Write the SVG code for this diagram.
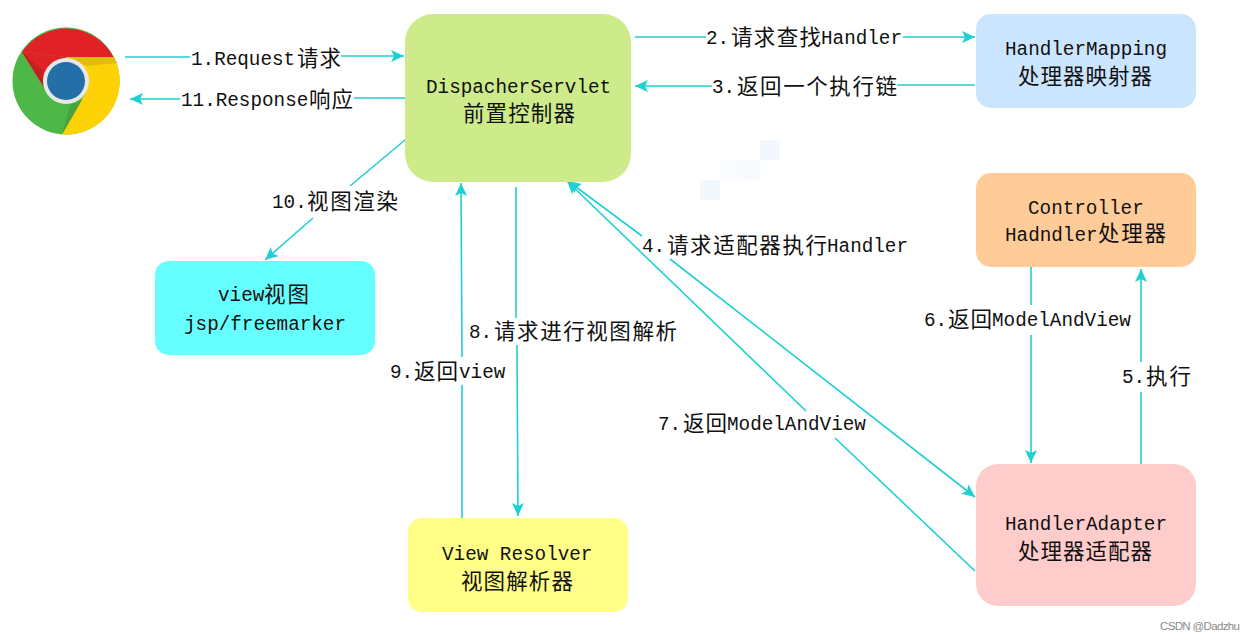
<svg xmlns="http://www.w3.org/2000/svg" width="1255" height="640" viewBox="0 0 1255 640">
<style>
text{font-family:"Liberation Mono","Noto Sans CJK SC",monospace;font-size:19.3px;fill:#111}
.c{font-family:"Noto Sans CJK SC","Liberation Sans",sans-serif;font-size:21.5px}
.box{stroke:none}
.ln{fill:none;stroke:#1fd0d2;stroke-width:1.6}
.a{marker-end:url(#arr)}
.wm{font-family:"Liberation Sans",sans-serif;font-size:11.5px;fill:#8a8a8a}
</style>
<defs>
<marker id="arr" markerUnits="userSpaceOnUse" markerWidth="16" markerHeight="14" refX="14" refY="7" orient="auto">
<path d="M1 1 L14 7 L1 13 L4 7 Z" fill="#1fd0d2"/>
</marker>
</defs>
<rect width="1255" height="640" fill="#fff"/>
<g id="watermark-patches" fill="#eff6fd" opacity=".75">
<rect x="700" y="180" width="20" height="20"/><rect x="720" y="160" width="20" height="20" opacity=".5"/><rect x="740" y="160" width="20" height="20" opacity=".6"/><rect x="760" y="140" width="20" height="20"/>
</g>
<g id="browser">
<circle cx="66" cy="81" r="53.5" fill="#4db748"/>
<path d="M22 52 A53.5 53.5 0 0 1 113.500 57 L66 57 Z" fill="#e02227"/>
<path d="M22 52 L43 86 L66 57 Z" fill="#e02227"/>
<path d="M114 57 A53.500 53.500 0 0 1 62 134.500 L86 92 L66 57 Z" fill="#fdd207"/>
<path d="M22 52 L44 87 L42 70 Z" fill="#c41f22"/>
<path d="M66 57 L114 57 L117 63 L86 66 Z" fill="#e0bd08"/>
<path d="M62 134.500 L82 100 L70 105 Z" fill="#49a33f"/>
<circle cx="66" cy="81" r="23" fill="#e8e8e8"/>
<circle cx="66" cy="81" r="19" fill="#246fa8"/>
</g>
<g id="connectors">
<path class="ln" d="M125 57H190"/><path class="ln a" d="M341 56H404"/>
<path class="ln" d="M405 98H354"/><path class="ln a" d="M180 99H130"/>
<path class="ln" d="M635 37H706"/><path class="ln a" d="M903 37H975"/>
<path class="ln" d="M975 85H897"/><path class="ln a" d="M712 86H635"/>
<path class="ln" d="M405 140L350 186"/><path class="ln a" d="M313 218L265 260"/>
<path class="ln" d="M516 187V318"/><path class="ln a" d="M517 345L518 516"/>
<path class="ln" d="M462 518V385"/><path class="ln a" d="M462 357L461 183"/>
<path class="ln a" d="M642 236L568 181"/>
<path class="ln a" d="M670 259L975 497"/>
<path class="ln" d="M975 571L835 438"/><path class="ln a" d="M806 411L567 181"/>
<path class="ln" d="M1031 267V305"/><path class="ln a" d="M1031 335V463"/>
<path class="ln" d="M1141 464V392"/><path class="ln a" d="M1141 362V269"/>
</g>
<g id="dispatcher"><rect class="box" x="405" y="14" width="226" height="168" rx="28" fill="#cdeb8b"/>
<text x="426" y="93">DispacherServlet</text><text class="c" y="121" x="463" textLength="112">前置控制器</text></g>
<g id="handler-mapping"><rect class="box" x="976" y="14" width="220" height="94" rx="15" fill="#cce5ff"/>
<text x="1005" y="55">HandlerMapping</text><text class="c" y="84" x="1018" textLength="134">处理器映射器</text></g>
<g id="controller"><rect class="box" x="976" y="173" width="220" height="94" rx="15" fill="#ffcc99"/>
<text x="1028" y="214">Controller</text><text x="1005" y="241">Hadndler</text><text class="c" y="241" x="1098" textLength="68">处理器</text></g>
<g id="handler-adapter"><rect class="box" x="976" y="464" width="220" height="142" rx="22" fill="#ffcccc"/>
<text x="1005" y="529.500">HandlerAdapter</text><text class="c" y="559" x="1018" textLength="134">处理器适配器</text></g>
<g id="view"><rect class="box" x="155" y="261" width="220" height="94" rx="14" fill="#66ffff"/>
<text x="218" y="301">view</text><text class="c" y="302" x="264" textLength="45">视图</text><text x="184" y="330">jsp/freemarker</text></g>
<g id="view-resolver"><rect class="box" x="408" y="518" width="220" height="94" rx="14" fill="#ffff88"/>
<text x="442" y="560">View Resolver</text><text class="c" y="589" x="461" textLength="112">视图解析器</text></g>
<g id="labels">
<text x="191" y="65">1.Request</text><text class="c" x="297" y="66" textLength="44">请求</text>
<text x="181" y="106">11.Response</text><text class="c" x="309" y="107" textLength="44">响应</text>
<text x="706" y="44">2.</text><text class="c" x="731" y="45" textLength="90">请求查找</text><text x="821" y="44">Handler</text>
<text x="712" y="93">3.</text><text class="c" x="737" y="94" textLength="160">返回一个执行链</text>
<text x="642" y="252">4.</text><text class="c" x="667" y="253" textLength="160">请求适配器执行</text><text x="827" y="252">Handler</text>
<text x="1122" y="383">5.</text><text class="c" x="1146" y="384" textLength="45">执行</text>
<text x="924" y="326">6.</text><text class="c" x="948" y="327" textLength="44">返回</text><text x="992" y="326">ModelAndView</text>
<text x="658" y="430">7.</text><text class="c" x="683" y="431" textLength="44">返回</text><text x="727" y="430">ModelAndView</text>
<text x="469" y="338">8.</text><text class="c" x="494" y="339" textLength="183">请求进行视图解析</text>
<text x="390" y="378">9.</text><text class="c" x="414" y="379" textLength="44">返回</text><text x="459" y="378">view</text>
<text x="272" y="208">10.</text><text class="c" x="307" y="209" textLength="91">视图渲染</text>
</g>
<text class="wm" x="1160" y="630" textLength="80">CSDN @Dadzhu</text>
</svg>
